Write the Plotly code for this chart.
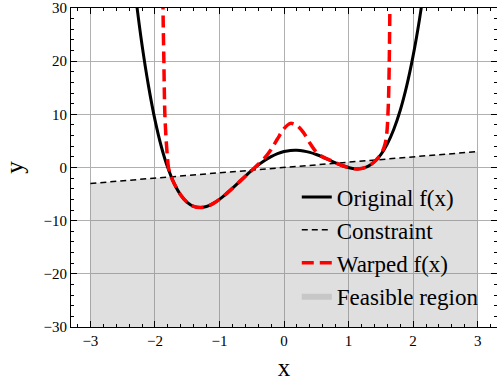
import plotly.graph_objects as go

# Original objective f(x), sampled along x
x_orig = [-2.4, -2.3, -2.2, -2.1, -2.0, -1.9, -1.8, -1.7, -1.6, -1.5, -1.4, -1.3,
          -1.2, -1.1, -1.0, -0.9, -0.8, -0.7, -0.6, -0.5, -0.4, -0.3, -0.2, -0.1,
          0.0, 0.1, 0.2, 0.3, 0.4, 0.5, 0.6, 0.7, 0.8, 0.9, 1.0, 1.1, 1.2, 1.3,
          1.4, 1.5, 1.6, 1.7, 1.8, 1.9, 2.0, 2.1, 2.2]
y_orig = [43.5, 32.4, 23.1, 15.4, 9.0, 3.9, -0.07, -3.05, -5.18, -6.56, -7.32, -7.54,
          -7.34, -6.80, -6.0, -5.02, -3.93, -2.79, -1.65, -0.56, 0.44, 1.31, 2.04, 2.61,
          3.0, 3.21, 3.24, 3.11, 2.84, 2.44, 1.95, 1.41, 0.87, 0.38, 0.0, -0.25, -0.2, 0.2,
          1.08, 2.44, 4.42, 7.15, 10.73, 15.31, 21.0, 27.95, 36.3]

# Warped objective (penalised outside the feasible set)
x_warp = [-1.877, -1.87, -1.861, -1.855, -1.846, -1.83, -1.81, -1.79, -1.77, -1.75,
          -1.7, -1.6, -1.5, -1.4, -1.3, -1.2, -1.1, -1.0, -0.9, -0.8, -0.7, -0.6,
          -0.5, -0.4, -0.3, -0.2, -0.1, 0.0, 0.1, 0.2, 0.3, 0.4, 0.5, 0.6, 0.7, 0.8,
          0.9, 1.0, 1.1, 1.2, 1.3, 1.4, 1.45, 1.5, 1.55, 1.58, 1.6, 1.61, 1.62, 1.631, 1.642]
y_warp = [32, 26, 20, 15, 10, 6, 2.5, 0.0, -0.9, -1.7,
          -3.05, -5.18, -6.56, -7.32, -7.54, -7.34, -6.80, -6.0, -5.02, -3.93, -2.79, -1.65,
          -0.56, 0.6, 1.8, 3.4, 5.4, 7.3, 8.3, 7.9, 6.6, 4.6, 2.9, 2.0, 1.45, 0.87,
          0.38, 0.0, -0.25, -0.2, 0.2, 1.08, 1.7, 2.5, 3.8, 5.2, 7.5, 10, 13, 20, 32]

# Linear constraint y = x and the region below it
x_con = [-3, 3]
y_con = [-3, 3]
y_floor = [-30, -30]

x_ticks = [-3, -2, -1, 0, 1, 2, 3]
y_ticks = [-30, -20, -10, 0, 10, 20, 30]

SERIF = "Liberation Serif, Times New Roman, serif"

fig = go.Figure()

fig.add_trace(go.Scatter(
    x=x_con, y=y_floor, mode="lines", line=dict(width=0),
    showlegend=False, hoverinfo="skip"))
fig.add_trace(go.Scatter(
    x=x_con, y=y_con, mode="lines", line=dict(width=0, color="rgba(128,128,128,0.3)"),
    fill="tonexty", fillcolor="rgba(128,128,128,0.25)",
    name="Feasible region", legendrank=4))

fig.add_trace(go.Scatter(
    x=x_orig, y=y_orig, mode="lines", line=dict(color="black", width=3, shape="spline"),
    name="Original f(x)", legendrank=1))
fig.add_trace(go.Scatter(
    x=x_con, y=y_con, mode="lines", line=dict(color="black", width=1.5, dash="6px,4px"),
    name="Constraint", legendrank=2))
fig.add_trace(go.Scatter(
    x=x_warp, y=y_warp, mode="lines",
    line=dict(color="#ff0000", width=3.5, dash="12px,6px", shape="spline", smoothing=0.8),
    name="Warped f(x)", legendrank=3))

axis_common = dict(
    showline=True, linecolor="black", linewidth=1, mirror="allticks",
    ticks="inside", ticklen=6, tickcolor="black", tickwidth=1,
    showgrid=True, gridcolor="#b0b0b0", gridwidth=1, zeroline=False,
    tickfont=dict(family=SERIF, size=15, color="black"),
)

fig.update_xaxes(
    range=[-3.3, 3.3], tickvals=x_ticks,
    minor=dict(ticks="inside", dtick=0.2, tick0=0, ticklen=3, tickcolor="black", showgrid=False),
    title=dict(text="x", font=dict(family=SERIF, size=25, color="black"), standoff=10),
    **axis_common)
fig.update_yaxes(
    range=[-30, 30], tickvals=y_ticks,
    minor=dict(ticks="inside", dtick=2, tick0=0, ticklen=3, tickcolor="black", showgrid=False),
    title=dict(text="y", font=dict(family=SERIF, size=25, color="black"), standoff=12),
    **axis_common)

fig.update_layout(
    width=497, height=382,
    margin=dict(l=71, r=0, t=8, b=55),
    plot_bgcolor="white", paper_bgcolor="white",
    showlegend=True,
    legend=dict(
        x=0.53, y=0.475, xanchor="left", yanchor="top",
        bgcolor="rgba(0,0,0,0)", borderwidth=0,
        font=dict(family=SERIF, size=23, color="black"),
        traceorder="normal",
    ),
)

fig.write_html("out.html")
